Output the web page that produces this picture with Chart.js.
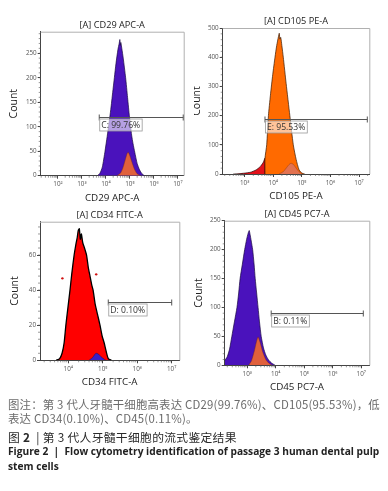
<!DOCTYPE html>
<html>
<head>
<meta charset="utf-8">
<script src="https://cdn.jsdelivr.net/npm/chart.js@4/dist/chart.umd.min.js"></script>
<style>
  html, body { margin: 0; padding: 0; background: #fff; }
  #page { position: relative; width: 388px; height: 491px; overflow: hidden; background: #fff; }
  canvas { position: absolute; }
  .cap { position: absolute; left: 8px; white-space: nowrap; font-family: "Open Sans", "Noto Sans CJK SC", sans-serif; }
  .cn { font-family: "Noto Sans CJK SC", "Open Sans", sans-serif; }
</style>
</head>
<body>
<div id="page">
  <canvas id="cd29" width="194" height="205" style="left:0;top:0"></canvas>
  <canvas id="cd105" width="194" height="205" style="left:194px;top:0"></canvas>
  <canvas id="cd34" width="194" height="192" style="left:0;top:200px"></canvas>
  <canvas id="cd45" width="194" height="192" style="left:194px;top:200px"></canvas>

  <div class="cap cn" style="top:396px;font-size:11.4px;letter-spacing:0.2px;color:#6b6b6b">图注：第 3 代人牙髓干细胞高表达 CD29(99.76%)、CD105(95.53%)，低</div>
  <div class="cap cn" style="top:410px;font-size:11.4px;letter-spacing:0.2px;color:#6b6b6b">表达 CD34(0.10%)、CD45(0.11%)。</div>
  <div class="cap cn" style="top:428px;font-size:11.8px;letter-spacing:0.3px;color:#2a2a2a">图 <b>2</b> &nbsp;|&nbsp;第 3 代人牙髓干细胞的流式鉴定结果</div>
  <div class="cap" style="top:444px;font-size:10.2px;font-weight:bold;color:#222">Figure 2 &nbsp;|&nbsp; Flow cytometry identification of passage 3 human dental pulp</div>
  <div class="cap" style="top:459px;font-size:10.2px;font-weight:bold;color:#222">stem cells</div>
</div>
<script>
// CD29 APC-A (x values are log10 of fluorescence)
const cd29Log = [3.65, 3.75, 3.85, 3.96, 4.05, 4.12, 4.2, 4.28, 4.35, 4.42, 4.5, 4.55, 4.58, 4.6, 4.62, 4.66, 4.72, 4.82, 4.9, 4.98, 5.07, 5.13, 5.2, 5.3, 5.4, 5.5, 5.6];
const cd29Count = [0, 5, 18, 50, 80, 105, 135, 170, 200, 230, 258, 270, 278, 266, 272, 260, 240, 200, 160, 120, 83, 65, 48, 25, 12, 4, 0];
const cd29SubLog = [4.45, 4.6, 4.7, 4.8, 4.88, 4.93, 5.0, 5.1, 5.2, 5.3, 5.45];
const cd29SubCount = [0, 5, 15, 32, 45, 48, 40, 25, 12, 4, 0];

// CD105 PE-A
const cd105Log = [2.6, 2.8, 3.0, 3.2, 3.4, 3.55, 3.65, 3.71, 3.77, 3.83, 3.9, 3.98, 4.06, 4.12, 4.18, 4.21, 4.23, 4.26, 4.3, 4.35, 4.45, 4.58, 4.7, 4.8, 4.9, 5.0, 5.1];
const cd105Count = [0, 1, 3, 6, 14, 26, 40, 54, 100, 200, 270, 340, 400, 440, 470, 482, 462, 468, 440, 400, 310, 200, 100, 50, 15, 3, 0];
const cd105Gate = 3.71;
const cd105SubLog = [4.2, 4.35, 4.45, 4.55, 4.62, 4.7, 4.8, 4.9, 5.0];
const cd105SubCount = [0, 8, 20, 32, 37, 33, 20, 8, 0];

// CD34 FITC-A
const cd34Log = [3.65, 3.75, 3.82, 3.88, 3.93, 3.99, 4.05, 4.1, 4.17, 4.22, 4.26, 4.29, 4.32, 4.35, 4.38, 4.42, 4.47, 4.53, 4.58, 4.63, 4.68, 4.72, 4.78, 4.85, 4.92, 4.98, 5.04, 5.1, 5.16, 5.25];
const cd34Count = [0, 1, 4, 10, 20, 30, 40, 49, 60, 66, 70, 74, 75, 69, 72, 67, 64, 60, 53, 48, 43, 40, 32, 26, 20, 14, 10, 5, 1, 0];
const cd34SubLog = [4.6, 4.7, 4.8, 4.88, 4.95, 5.05, 5.1];
const cd34SubCount = [0, 1.5, 4, 3.5, 2, 0.5, 0];
const cd34DotLog = [3.83, 4.81];
const cd34DotCount = [46.7, 49];

// CD45 PC7-A
const cd45Log = [2.21, 2.3, 2.38, 2.46, 2.55, 2.64, 2.7, 2.75, 2.83, 2.91, 2.98, 3.03, 3.07, 3.1, 3.14, 3.19, 3.24, 3.28, 3.33, 3.38, 3.43, 3.49, 3.57, 3.65, 3.75, 3.85, 3.98];
const cd45Count = [8, 15, 28, 50, 75, 100, 125, 150, 175, 200, 218, 228, 233, 226, 215, 200, 175, 150, 125, 100, 75, 50, 30, 18, 9, 4, 0];
const cd45SubLog = [3.05, 3.15, 3.25, 3.32, 3.38, 3.45, 3.55, 3.65, 3.75, 3.87];
const cd45SubCount = [0, 8, 25, 40, 49, 40, 22, 10, 4, 0];

// axis ticks
const cd29XTicks = [2, 3, 4, 5, 6, 7];
const cd29YTicks = [0, 50, 100, 150, 200, 250];
const cd105XTicks = [3, 4, 5, 6, 7];
const cd105YTicks = [0, 100, 200, 300, 400, 500];
const cd34XTicks = [4, 5, 6, 7];
const cd34YTicks = [0, 20, 40, 60];
const cd45XTicks = [3, 4, 5, 6, 7];
const cd45YTicks = [0, 50, 100, 150, 200, 250];

// gates: [from, to, count, label]
const cd29GateBar = [3.72, 7.22, 120, 'C: 99.76%'];
const cd105GateBar = [3.71, 7.29, 188, 'E: 95.53%'];
const cd34GateBar = [5.16, 7.0, 33, 'D: 0.10%'];
const cd45GateBar = [3.84, 7.07, 90, 'B: 0.11%'];

const SUP = { 2: '²', 3: '³', 4: '⁴', 5: '⁵', 6: '⁶', 7: '⁷' };
const FONT = '"Open Sans", "DejaVu Sans", sans-serif';

function pts(xs, ys) {
  return xs.map((x, i) => ({ x: x, y: ys[i] }));
}

function hist(xs, ys, color, border, order) {
  return {
    type: 'line',
    data: pts(xs, ys),
    backgroundColor: color,
    borderColor: border,
    borderWidth: 0.7,
    pointRadius: 0,
    fill: 'origin',
    tension: 0.2,
    order: order
  };
}

// titles, frame, minor ticks and gate drawn on top of the chart
const panelDecor = {
  id: 'panelDecor',
  afterDatasetsDraw(chart) {
    const o = chart.options.plugins.panelDecor;
    const ctx = chart.ctx;
    const a = chart.chartArea;
    const xs = chart.scales.x, ys = chart.scales.y;
    ctx.save();

    // frame top / right
    ctx.strokeStyle = '#b0b0b0';
    ctx.lineWidth = 1;
    ctx.beginPath();
    ctx.moveTo(a.left, a.top + 0.5);
    ctx.lineTo(a.right + 0.5, a.top + 0.5);
    ctx.lineTo(a.right + 0.5, a.bottom);
    ctx.stroke();

    // minor ticks
    ctx.strokeStyle = '#555';
    ctx.lineWidth = 0.6;
    ctx.beginPath();
    for (let d = Math.floor(xs.min); d < Math.ceil(xs.max); d++) {
      for (let k = 2; k <= 9; k++) {
        const v = d + Math.log10(k);
        if (v <= xs.min || v >= xs.max) continue;
        const px = xs.getPixelForValue(v);
        ctx.moveTo(px, a.bottom);
        ctx.lineTo(px, a.bottom + 2);
      }
    }
    for (let v = o.yMinor; v < ys.max; v += o.yMinor) {
      const py = ys.getPixelForValue(v);
      ctx.moveTo(a.left, py);
      ctx.lineTo(a.left - 2, py);
    }
    ctx.stroke();

    // gate
    const g = o.gate;
    const x1 = xs.getPixelForValue(g[0]);
    const x2 = xs.getPixelForValue(g[1]);
    const gy = Math.round(ys.getPixelForValue(g[2])) + 0.5;
    ctx.strokeStyle = '#555';
    ctx.lineWidth = 1;
    ctx.beginPath();
    ctx.moveTo(x1, gy); ctx.lineTo(x2, gy);
    ctx.moveTo(x1, gy - 3); ctx.lineTo(x1, gy + 3);
    ctx.moveTo(x2, gy - 3); ctx.lineTo(x2, gy + 3);
    ctx.stroke();
    ctx.font = '8.6px ' + FONT;
    const tw = ctx.measureText(g[3]).width;
    ctx.fillStyle = 'rgba(255,255,255,0.6)';
    ctx.fillRect(x1, gy + 1.5, tw + 4, 12);
    ctx.strokeStyle = '#999';
    ctx.lineWidth = 0.8;
    ctx.strokeRect(x1 + 0.5, gy + 1.5, tw + 3.5, 12);
    ctx.fillStyle = '#333';
    ctx.textBaseline = 'middle';
    ctx.textAlign = 'left';
    ctx.fillText(g[3], x1 + 2, gy + 8);

    // texts
    const cx = (a.left + a.right) / 2;
    ctx.fillStyle = '#222';
    ctx.textAlign = 'center';
    ctx.textBaseline = 'alphabetic';
    ctx.font = '9.2px ' + FONT;
    ctx.fillText(o.title, cx, a.top - 4);
    ctx.font = '9.8px ' + FONT;
    ctx.fillText(o.xTitle, cx, a.bottom + 25);
    ctx.save();
    ctx.translate(o.countX, (a.top + a.bottom) / 2);
    ctx.rotate(-Math.PI / 2);
    ctx.font = '10.5px ' + FONT;
    ctx.textBaseline = 'middle';
    ctx.fillText('Count', 0, 0);
    ctx.restore();

    ctx.restore();
  }
};

function makePanel(p) {
  const canvas = document.getElementById(p.id);
  const W = canvas.width, H = canvas.height;
  const tickFont = { family: FONT, size: 6.3 };

  new Chart(canvas.getContext('2d'), {
    type: 'line',
    data: { datasets: p.datasets },
    options: {
      responsive: false,
      animation: false,
      events: [],
      layout: { padding: { left: 0, top: p.area[1], right: W - p.area[2], bottom: 0 } },
      plugins: {
        legend: { display: false },
        tooltip: { enabled: false },
        panelDecor: { title: p.title, xTitle: p.xTitle, gate: p.gate, yMinor: p.yMinor, countX: p.countX }
      },
      scales: {
        x: {
          type: 'linear',
          min: p.xRange[0],
          max: p.xRange[1],
          afterBuildTicks: s => { s.ticks = p.xTicks.map(v => ({ value: v })); },
          afterFit: s => { s.height = H - p.area[3]; },
          ticks: { callback: v => '10' + SUP[v], font: tickFont, color: '#555', padding: 2, maxRotation: 0, autoSkip: false },
          grid: { drawOnChartArea: false, tickLength: 3, color: '#444' },
          border: { color: '#444', width: 1 }
        },
        y: {
          min: 0,
          max: p.yMax,
          afterBuildTicks: s => { s.ticks = p.yTicks.map(v => ({ value: v })); },
          afterFit: s => { s.width = p.area[0]; },
          ticks: { font: tickFont, color: '#555', padding: 1, autoSkip: false },
          grid: { drawOnChartArea: false, tickLength: 3, color: '#444' },
          border: { color: '#444', width: 1 }
        }
      }
    },
    plugins: [panelDecor]
  });
}

const PURPLE = '#4a12bc';
const SALMON = '#e0603c';

makePanel({
  id: 'cd29', title: '[A] CD29 APC-A', xTitle: 'CD29 APC-A',
  area: [40.7, 31.7, 183.7, 175.7], countX: 14,
  xRange: [1.28, 7.24], xTicks: cd29XTicks,
  yMax: 294, yTicks: cd29YTicks, yMinor: 10,
  gate: cd29GateBar,
  datasets: [
    hist(cd29SubLog, cd29SubCount, SALMON, 'rgba(120,40,20,0.6)', 0),
    hist(cd29Log, cd29Count, PURPLE, '#1a0840', 1)
  ]
});

// split CD105 into the part left of the gate (red) and right of it (orange)
const cd105LeftLog = cd105Log.filter(v => v <= cd105Gate).concat([cd105Gate]);
const cd105LeftCount = cd105Count.filter((c, i) => cd105Log[i] <= cd105Gate).concat([0]);
const cd105RightLog = [cd105Gate].concat(cd105Log.filter(v => v >= cd105Gate));
const cd105RightCount = [0].concat(cd105Count.filter((c, i) => cd105Log[i] >= cd105Gate));

makePanel({
  id: 'cd105', title: '[A] CD105 PE-A', xTitle: 'CD105 PE-A',
  area: [28.7, 28, 175.3, 174], countX: 3,
  xRange: [2.23, 7.36], xTicks: cd105XTicks,
  yMax: 500, yTicks: cd105YTicks, yMinor: 20,
  gate: cd105GateBar,
  datasets: [
    hist(cd105SubLog, cd105SubCount, '#e27250', 'rgba(120,50,20,0.5)', 0),
    hist(cd105RightLog, cd105RightCount, '#ff6a00', '#3a1a00', 1),
    hist(cd105LeftLog, cd105LeftCount, '#e4101a', '#200000', 2)
  ]
});

makePanel({
  id: 'cd34', title: '[A] CD34 FITC-A', xTitle: 'CD34 FITC-A',
  area: [40, 21.7, 179.3, 160.3], countX: 15,
  xRange: [3.18, 7.22], xTicks: cd34XTicks,
  yMax: 79, yTicks: cd34YTicks, yMinor: 4,
  gate: cd34GateBar,
  datasets: [
    {
      type: 'scatter', data: pts(cd34DotLog, cd34DotCount),
      pointRadius: 1.2, pointBackgroundColor: '#d01010', pointBorderWidth: 0, order: 0
    },
    hist(cd34SubLog, cd34SubCount, '#3a20c8', 'rgba(20,10,80,0.6)', 1),
    Object.assign(hist(cd34Log, cd34Count, '#ff0000', '#000', 2), { borderWidth: 1.3 })
  ]
});

makePanel({
  id: 'cd45', title: '[A] CD45 PC7-A', xTitle: 'CD45 PC7-A',
  area: [30.7, 20.7, 175.3, 165.3], countX: 5,
  xRange: [2.21, 7.28], xTicks: cd45XTicks,
  yMax: 250, yTicks: cd45YTicks, yMinor: 10,
  gate: cd45GateBar,
  datasets: [
    hist(cd45SubLog, cd45SubCount, SALMON, 'rgba(120,40,20,0.6)', 0),
    hist(cd45Log, cd45Count, PURPLE, '#1a0840', 1)
  ]
});
</script>
</body>
</html>
